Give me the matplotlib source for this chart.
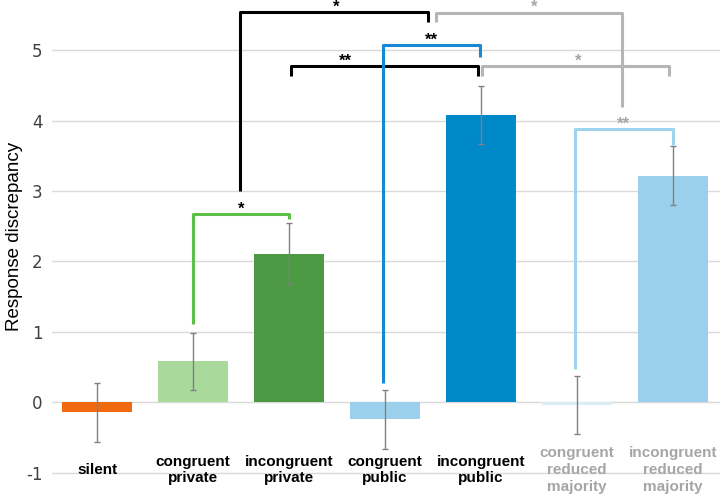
import matplotlib
matplotlib.use('Agg')
import matplotlib.pyplot as plt

plt.rcParams['axes.unicode_minus'] = False

# bar data
labels = ['silent', 'congruent\nprivate', 'incongruent\nprivate', 'congruent\npublic',
          'incongruent\npublic', 'congruent\nreduced\nmajority', 'incongruent\nreduced\nmajority']
means = [-0.14, 0.58, 2.11, -0.24, 4.08, -0.04, 3.22]
errors = [0.42, 0.41, 0.43, 0.42, 0.41, 0.41, 0.42]
bar_colors = ['#ef6a10', '#a9d99b', '#4c9a43', '#9bd0ec', '#0089c8', '#dcedf7', '#9bd0ec']
label_colors = ['black'] * 5 + ['#a6a6a6'] * 2

# significance brackets:
# x left, x right, left leg bottom, top, right leg bottom, star x, stars, line colour, star colour
brackets = [
    (1.0, 2.0, 1.11, 2.67, 2.60, 1.5, '*', '#5cbf4a', 'black'),
    (1.49, 3.45, 3.0, 5.54, 5.40, 2.49, '*', 'black', 'black'),
    (2.02, 3.97, 4.64, 4.77, 4.63, 2.59, '**', 'black', 'black'),
    (2.98, 3.99, 0.28, 5.07, 4.91, 3.48, '**', '#1689d2', 'black'),
    (3.53, 5.47, 5.40, 5.53, 4.20, 4.55, '*', '#b5b5b5', '#a6a6a6'),
    (4.01, 5.96, 4.63, 4.77, 4.63, 5.01, '*', '#b5b5b5', '#a6a6a6'),
    (4.98, 6.0, 0.47, 3.88, 3.66, 5.48, '**', '#9fd4ef', '#a6a6a6'),
]

fig = plt.figure(figsize=(7.2, 4.97), dpi=100)
ax = fig.add_axes([52 / 720, 0, 668 / 720, 1])

x = list(range(len(means)))
ax.bar(x, means, width=0.73, color=bar_colors, zorder=2)
ax.errorbar(x, means, yerr=errors, fmt='none', ecolor='#808080',
            elinewidth=1, capsize=2, capthick=1, zorder=3)

for xl, xr, yl, yt, yr, sx, stars, lc, sc in brackets:
    ax.plot([xl, xl, xr, xr], [yl, yt, yt, yr], color=lc, lw=2.2,
            solid_joinstyle='round', solid_capstyle='butt', zorder=4)
    ax.text(sx, yt + 0.01, stars, ha='center', va='baseline',
            fontsize=12, fontweight='bold', color=sc, family='Liberation Sans', zorder=5)

for xi, lab, c in zip(x, labels, label_colors):
    ax.text(xi, -0.96, lab, ha='center', va='center', fontsize=11,
            fontweight='bold', color=c, family='Liberation Sans', linespacing=1.25)

ax.set_xlim(-0.47, 6.49)
ax.set_ylim(-1.345, 5.714)
ax.set_yticks(range(-1, 6))
ax.set_xticks([])
ax.yaxis.grid(True, color='#d9d9d9', lw=1)
ax.set_axisbelow(True)
for s in ax.spines.values():
    s.set_visible(False)
ax.tick_params(axis='y', length=0, pad=7, labelsize=12, labelcolor='#404040')
ax.set_ylabel('Response discrepancy', fontsize=13.5, family='Liberation Sans')
ax.yaxis.set_label_coords(-0.043, 0.525)

fig.savefig('out.png', dpi=100)
